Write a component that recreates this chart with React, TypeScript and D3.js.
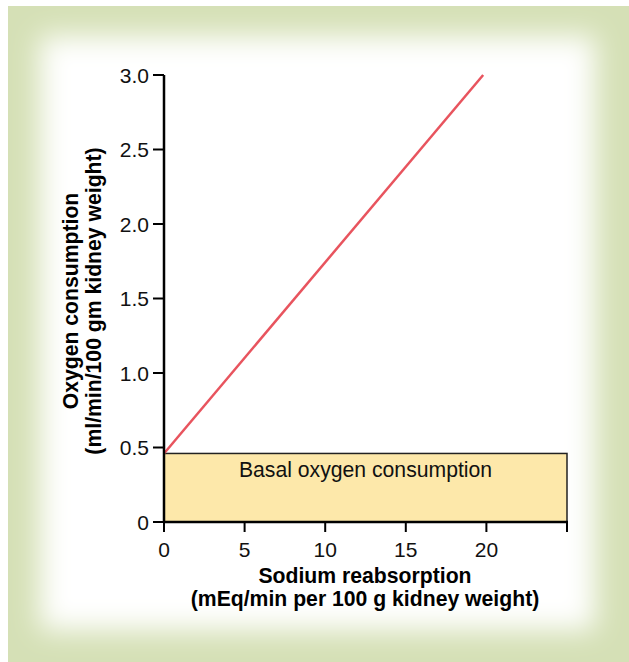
import React from "react";
import * as d3 from "d3";

const xTicks = [0, 5, 10, 15, 20, 25];
const xTickLabels = ["0", "5", "10", "15", "20", ""];
const yTicks = [0, 0.5, 1.0, 1.5, 2.0, 2.5, 3.0];
const yTickLabels = ["0", "0.5", "1.0", "1.5", "2.0", "2.5", "3.0"];
const lineX = [0, 19.8];
const lineY = [0.46, 3.0];
const basalLevel = 0.46;
const basalLabel = "Basal oxygen consumption";
const xTitle = ["Sodium reabsorption", "(mEq/min per 100 g kidney weight)"];
const yTitle = ["Oxygen consumption", "(ml/min/100 gm kidney weight)"];

const W = 629;
const H = 662;

export default function App() {
  const x = d3.scaleLinear().domain([0, 25]).range([164, 567]);
  const y = d3.scaleLinear().domain([0, 3]).range([522, 75]);
  const pts: [number, number][] = lineX.map((v, i) => [v, lineY[i]]);
  const line = d3
    .line<[number, number]>()
    .x((d) => x(d[0]))
    .y((d) => y(d[1]));
  const font = "Liberation Sans, Arial, Helvetica, sans-serif";
  return (
    <svg
      width={W}
      height={H}
      style={{ position: "absolute", left: 0, top: 0 }}
      fontFamily={font}
    >
      <defs>
        <filter id="blur" x="-20%" y="-20%" width="140%" height="140%">
          <feGaussianBlur stdDeviation="14" />
        </filter>
        <clipPath id="frameClip">
          <rect x={8} y={6} width={W - 8} height={H - 6} />
        </clipPath>
      </defs>
      <rect x={0} y={0} width={W} height={H} fill="#ffffff" />
      <g clipPath="url(#frameClip)">
        <rect x={8} y={6} width={W - 8} height={H - 6} fill="#d5e0b6" />
        <rect
          x={40}
          y={36}
          width={W - 40 - 34}
          height={H - 36 - 32}
          fill="#ffffff"
          filter="url(#blur)"
        />
      </g>

      {/* basal box */}
      <rect
        x={x(0)}
        y={y(basalLevel)}
        width={x(25) - x(0)}
        height={y(0) - y(basalLevel)}
        fill="#fde8aa"
        stroke="#222"
        strokeWidth={1.5}
      />
      <text
        x={(x(0) + x(25)) / 2}
        y={477}
        textAnchor="middle"
        fontSize={21.2}
        fill="#111"
      >
        {basalLabel}
      </text>

      {/* line */}
      <path d={line(pts) || ""} fill="none" stroke="#e8545e" strokeWidth={2.5} />

      {/* axes */}
      <line x1={x(0)} x2={x(0)} y1={y(3)} y2={y(0)} stroke="#000" strokeWidth={2.5} />
      <line x1={x(0) - 1} x2={x(25) + 1} y1={y(0)} y2={y(0)} stroke="#000" strokeWidth={2.5} />
      {yTicks.map((t, i) => (
        <g key={"y" + i}>
          <line x1={x(0) - 11} x2={x(0)} y1={y(t)} y2={y(t)} stroke="#000" strokeWidth={2} />
          <text
            x={x(0) - 15}
            y={y(t)}
            dy="0.36em"
            textAnchor="end"
            fontSize={21}
            fill="#111"
          >
            {yTickLabels[i]}
          </text>
        </g>
      ))}
      {xTicks.map((t, i) => (
        <g key={"x" + i}>
          <line x1={x(t)} x2={x(t)} y1={y(0)} y2={y(0) + 10} stroke="#000" strokeWidth={2} />
          <text x={x(t)} y={557} textAnchor="middle" fontSize={21} fill="#111">
            {xTickLabels[i]}
          </text>
        </g>
      ))}

      {/* titles */}
      {xTitle.map((s, i) => (
        <text
          key={"xt" + i}
          x={365}
          y={583 + i * 23}
          textAnchor="middle"
          fontSize={21.2}
          fontWeight="bold"
          fill="#000"
        >
          {s}
        </text>
      ))}
      {yTitle.map((s, i) => (
        <text
          key={"yt" + i}
          transform={`translate(${78 + i * 23},${301}) rotate(-90)`}
          textAnchor="middle"
          fontSize={21.2}
          fontWeight="bold"
          fill="#000"
        >
          {s}
        </text>
      ))}
    </svg>
  );
}
